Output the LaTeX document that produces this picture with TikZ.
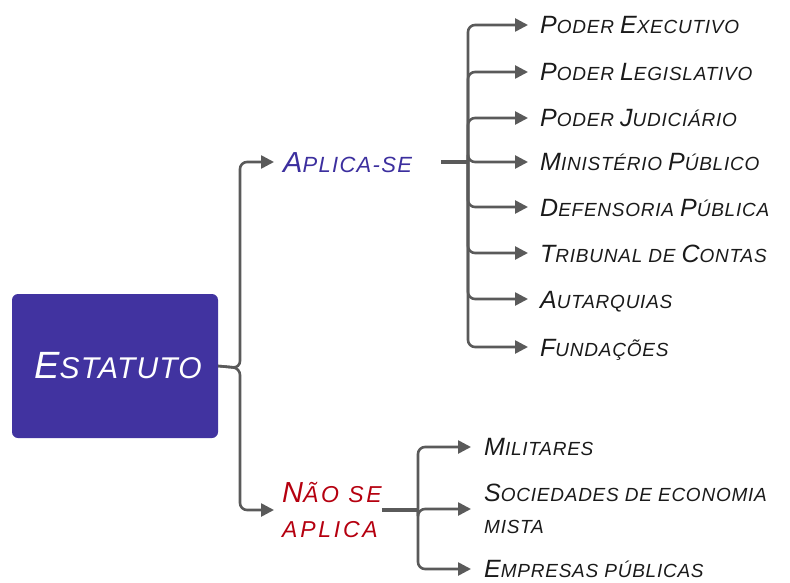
\documentclass[tikz,border=0pt]{standalone}
\usepackage{fontspec}
\setmainfont{Liberation Sans}[LetterSpace=4]
\usetikzlibrary{arrows.meta}
\definecolor{boxc}{HTML}{4133A0}
\definecolor{purp}{HTML}{3C2F9E}
\definecolor{redc}{HTML}{B5000F}
\definecolor{linec}{HTML}{5A5A5A}
\definecolor{txt}{HTML}{1A1A1A}
\newcommand\Bg[1]{{\fontsize{25}{28}\selectfont #1}}
\newcommand\Hg[1]{{\fontsize{38}{40}\selectfont #1}}
\newcommand\Mg[1]{{\fontsize{29}{32}\selectfont #1}}
\begin{document}
\begin{tikzpicture}[x=1pt,y=-1pt,
  seg/.style={draw=linec, line width=2.6pt, rounded corners=7pt},
  stub/.style={draw=linec, line width=4pt},
  conn/.style={seg, -{Triangle[length=13pt,width=13pt]}},
  leaf/.style={anchor=west, inner xsep=12pt, inner ysep=0pt, text height=18pt, text depth=0pt, text=txt, font=\fontsize{19}{32}\selectfont\itshape},
  leaf2/.style={anchor=west, inner xsep=13pt, inner ysep=0pt, align=left, text=txt, font=\fontsize{19}{32}\selectfont\itshape},
]
\useasboundingbox (0,0) rectangle (790,583);
% root
\node[fill=boxc, rounded corners=6pt, minimum width=206pt, minimum height=144pt, inner sep=0pt,
      text=white, font=\fontsize{30}{34}\selectfont\itshape] (est) at (115,366) {\Hg{E}STATUTO\hspace*{-6pt}};
% level 1
\node[anchor=west, inner xsep=9pt, inner ysep=0pt, text height=21pt, text depth=0pt, text=purp,
      font=\fontsize{22}{24}\selectfont\addfontfeature{LetterSpace=6}\itshape] (apl) at (274,162) {\Mg{A}PLICA-SE};
\node[anchor=west, inner xsep=8pt, inner ysep=0pt, align=left, text=redc,
      font=\fontsize{23}{35}\selectfont\addfontfeature{LetterSpace=12}\itshape] (nao) at (274,510) {\Mg{N}ÃO SE\\APLICA};
\coordinate (j0) at (240,368);
\draw[conn] (est.east) -- (j0) |- (apl.west);
\draw[conn] (est.east) -- (j0) |- (nao.west);
% leaves of Aplica-se
\node[leaf] (l1) at (528,25) {\Bg{P}ODER \Bg{E}XECUTIVO};
\node[leaf] (l2) at (528,72) {\Bg{P}ODER \Bg{L}EGISLATIVO};
\node[leaf] (l3) at (528,118) {\Bg{P}ODER \Bg{J}UDICIÁRIO};
\node[leaf] (l4) at (528,162) {\Bg{M}INISTÉRIO \Bg{P}ÚBLICO};
\node[leaf] (l5) at (528,207) {\Bg{D}EFENSORIA \Bg{P}ÚBLICA};
\node[leaf] (l6) at (528,253) {\Bg{T}RIBUNAL DE \Bg{C}ONTAS};
\node[leaf] (l7) at (528,299) {\Bg{A}UTARQUIAS};
\node[leaf] (l8) at (528,347) {\Bg{F}UNDAÇÕES};
\coordinate (j1) at (468,162);
\draw[stub] ([xshift=20pt]apl.east) -- (j1);
\foreach \i in {1,...,8} {\draw[conn] (j1) |- (l\i.west);}
% leaves of Nao se aplica
\node[leaf2] (m1) at (471,447) {\Bg{M}ILITARES};
\node[leaf2] (m2) at (471,509) {\Bg{S}OCIEDADES DE ECONOMIA\\MISTA};
\node[leaf2] (m3) at (471,569) {\Bg{E}MPRESAS PÚBLICAS};
\coordinate (j2) at (418,510);
\draw[stub] ([xshift=-8pt]nao.east) -- (j2);
\foreach \i in {1,2,3} {\draw[conn] (j2) |- (m\i.west);}
\end{tikzpicture}
\end{document}
